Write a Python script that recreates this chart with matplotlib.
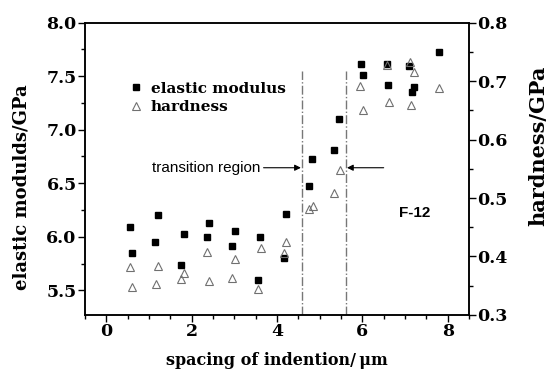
import matplotlib
matplotlib.use("Agg")
import matplotlib.pyplot as plt
from matplotlib.lines import Line2D
from matplotlib.ticker import MultipleLocator

# elastic modulus (left axis, GPa)
mod_x = [0.56, 0.61, 1.21, 1.15, 1.81, 1.76, 2.41, 2.35, 3.01, 2.95, 3.61, 3.56, 4.21,
         4.16, 4.74, 4.83, 5.33, 5.45, 5.96, 6.01, 6.57, 6.61, 7.10, 7.21, 7.16, 7.80]
mod_y = [6.09, 5.85, 6.20, 5.95, 6.03, 5.74, 6.13, 6.00, 6.05, 5.91, 6.00, 5.60, 6.21,
         5.80, 6.47, 6.73, 6.81, 7.10, 7.61, 7.51, 7.61, 7.42, 7.60, 7.40, 7.35, 7.73]

# hardness (right axis, GPa)
hard_x = [0.56, 0.61, 1.21, 1.16, 1.81, 1.76, 2.36, 2.41, 3.01, 2.95, 3.62, 3.56, 4.21,
          4.17, 4.75, 4.84, 5.34, 5.48, 5.95, 6.01, 6.57, 6.62, 7.11, 7.21, 7.15, 7.80]
hard_y = [0.382, 0.347, 0.383, 0.353, 0.372, 0.362, 0.408, 0.358, 0.395, 0.364, 0.415,
          0.345, 0.425, 0.406, 0.481, 0.487, 0.508, 0.548, 0.691, 0.651, 0.728, 0.665,
          0.733, 0.715, 0.659, 0.689]

boundaries = [4.58, 5.62]

serif = "DejaVu Serif"

fig = plt.figure(figsize=(5.47, 3.74), dpi=100)
ax = fig.add_axes([0.1554, 0.158, 0.702, 0.7813])
ax2 = ax.twinx()

ax.plot(mod_x, mod_y, "s", color="black", ms=4.6, ls="none")
ax2.plot(hard_x, hard_y, "^", mfc="none", mec="#707070", mew=0.8, ms=6, ls="none")

for b in boundaries:
    ax.plot([b, b], [5.27, 7.55], color="#777777", lw=1.0, ls="-.")

ax.set_xlim(-0.5, 8.5)
ax.set_ylim(5.27, 8.0)
ax2.set_ylim(0.3, 0.8)

ax.xaxis.set_major_locator(MultipleLocator(2))
ax.xaxis.set_minor_locator(MultipleLocator(0.5))
ax.yaxis.set_major_locator(MultipleLocator(0.5))
ax.yaxis.set_minor_locator(MultipleLocator(0.25))
ax2.yaxis.set_major_locator(MultipleLocator(0.1))
ax2.yaxis.set_minor_locator(MultipleLocator(0.05))
ax.yaxis.set_major_formatter(plt.FormatStrFormatter("%.1f"))
ax2.yaxis.set_major_formatter(plt.FormatStrFormatter("%.1f"))

for a in (ax, ax2):
    a.tick_params(which="major", direction="out", length=5, width=1.0,
                  labelsize=12.5, pad=1)
    a.tick_params(which="minor", direction="out", length=3, width=1.0)
    for s in a.spines.values():
        s.set_linewidth(1.1)
    for lab in a.get_xticklabels() + a.get_yticklabels():
        lab.set_fontfamily(serif)
        lab.set_fontweight("bold")

ax.set_xlabel("spacing of indention/\u2009\u03bcm", fontfamily=serif,
              fontweight="bold", fontsize=11.5, va="center")
ax.xaxis.set_label_coords(0.5, -0.157)
ax.set_ylabel("elastic modulds/GPa", fontfamily=serif, fontweight="bold",
              fontsize=13, va="center")
ax.yaxis.set_label_coords(-0.165, 0.436)
ax2.set_ylabel("hardness/GPa", fontfamily=serif, fontweight="bold",
               fontsize=15, va="center", rotation=90)
ax2.yaxis.set_label_coords(1.18, 0.58)

handles = [
    Line2D([], [], marker="s", color="black", ls="none", ms=4.6),
    Line2D([], [], marker="^", mfc="none", mec="#707070", mew=0.8, ls="none", ms=6),
]
ax.legend(handles, ["elastic modulus", "hardness"], loc="upper left",
          bbox_to_anchor=(0.08, 0.845), frameon=False, handlelength=0.8,
          handletextpad=0.6, labelspacing=0.3,
          prop={"family": serif, "weight": "bold", "size": 11})

ax.annotate("transition region", xy=(4.56, 6.645), xytext=(3.62, 6.645),
            ha="right", va="center", fontsize=11, fontfamily="Liberation Sans",
            arrowprops=dict(arrowstyle="-|>", color="black", lw=0.8,
                            shrinkA=0, shrinkB=0, mutation_scale=9))
ax.annotate("", xy=(5.64, 6.645), xytext=(6.5, 6.645),
            arrowprops=dict(arrowstyle="-|>", color="black", lw=0.8,
                            shrinkA=0, shrinkB=0, mutation_scale=9))

ax.text(7.23, 6.225, "F-12", ha="center", va="center", fontsize=11,
        fontweight="bold", fontfamily="Liberation Sans")

fig.savefig("out.png", dpi=100)
